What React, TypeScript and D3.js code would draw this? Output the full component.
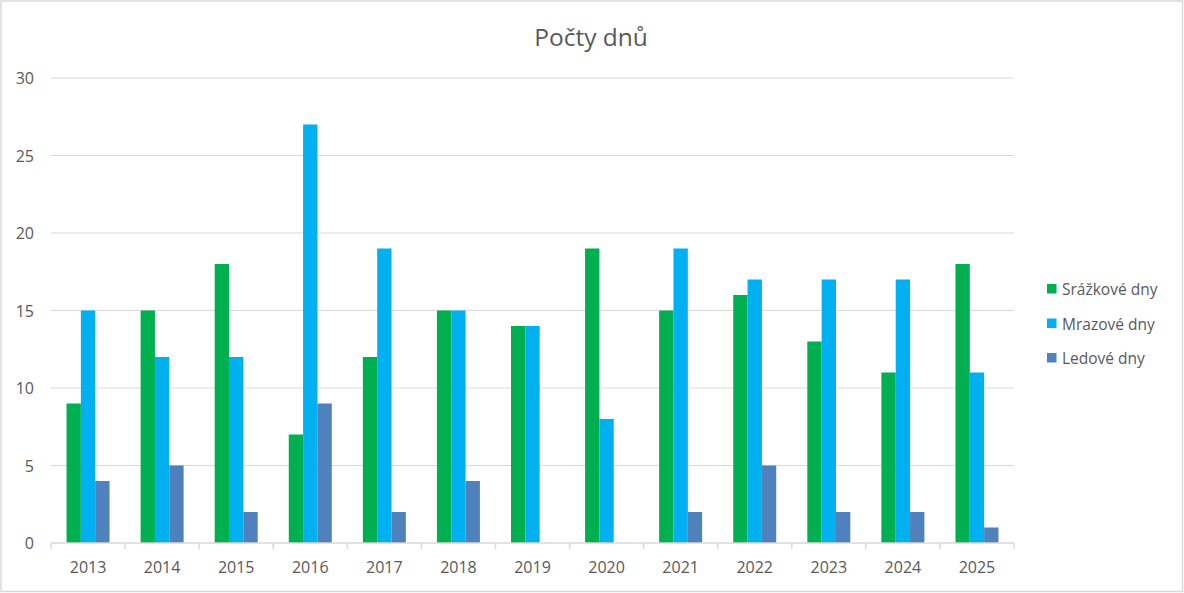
import React from "react";
import * as d3 from "d3";

const years = ["2013","2014","2015","2016","2017","2018","2019","2020","2021","2022","2023","2024","2025"];
const srazkove = [9,15,18,7,12,15,14,19,15,16,13,11,18];
const mrazove = [15,12,12,27,19,15,14,8,19,17,17,17,11];
const ledove = [4,5,2,9,2,4,0,0,2,5,2,2,1];
const seriesNames = ["Srážkové dny","Mrazové dny","Ledové dny"];
const seriesColors = ["#00B050","#00B0F0","#4F81BD"];
const yTicks = [0,5,10,15,20,25,30];

const W = 1184, H = 593;
const left = 51, right = 1014, top = 78, bottom = 543;
const font = "'Open Sans', 'Noto Sans', sans-serif";

export default function App() {
  const x = d3.scaleBand<string>().domain(years).range([left, right]).paddingInner(0).paddingOuter(0);
  const y = d3.scaleLinear().domain([0, 30]).range([bottom, top]);
  const groupW = 43;
  const inner = d3.scaleBand<string>().domain(seriesNames).range([0, groupW]).padding(0);
  const data = [srazkove, mrazove, ledove];
  const bw = x.bandwidth();

  return (
    <svg width={W} height={H} style={{ position: "absolute", left: 0, top: 0 }}>
      <rect x={1} y={1} width={W - 2.5} height={H - 2.5} fill="#fff" stroke="#d9d9d9" strokeWidth={1.5} />
      <text x={591} y={46} textAnchor="middle" fontFamily={font} fontSize={24.5} fill="#595959">Počty dnů</text>
      {yTicks.map(t => (
        <g key={t}>
          {t > 0 && <line x1={left} x2={right} y1={y(t)} y2={y(t)} stroke="#d9d9d9" strokeWidth={1} />}
          <text x={34} y={y(t) + 6} textAnchor="end" fontFamily={font} fontSize={16} fill="#595959">{t}</text>
        </g>
      ))}
      {data.map((vals, si) => (
        <g key={si}>
          {years.map((yr, i) => {
            const v = vals[i];
            if (!v) return null;
            const bx = (x(yr) as number) + (bw - groupW) / 2 + (inner(seriesNames[si]) as number);
            return <rect key={yr} x={bx} y={y(v)} width={inner.bandwidth()} height={y(0) - y(v)} fill={seriesColors[si]} />;
          })}
        </g>
      ))}
      <line x1={left} x2={right} y1={bottom} y2={bottom} stroke="#d9d9d9" strokeWidth={1.5} />
      {[...years.map(yr => x(yr) as number), right].map((px, i) => (
        <line key={i} x1={px} x2={px} y1={bottom} y2={bottom + 6} stroke="#d9d9d9" strokeWidth={1.5} />
      ))}
      {years.map(yr => (
        <text key={yr} x={(x(yr) as number) + bw / 2} y={573} textAnchor="middle" fontFamily={font} fontSize={16} fill="#595959">{yr}</text>
      ))}
      {seriesNames.map((n, i) => (
        <g key={n}>
          <rect x={1047} y={284 + i * 34.5} width={9.5} height={9.5} fill={seriesColors[i]} />
          <text x={1062} y={295 + i * 34.5} fontFamily={font} fontSize={15.5} fill="#595959">{n}</text>
        </g>
      ))}
    </svg>
  );
}
